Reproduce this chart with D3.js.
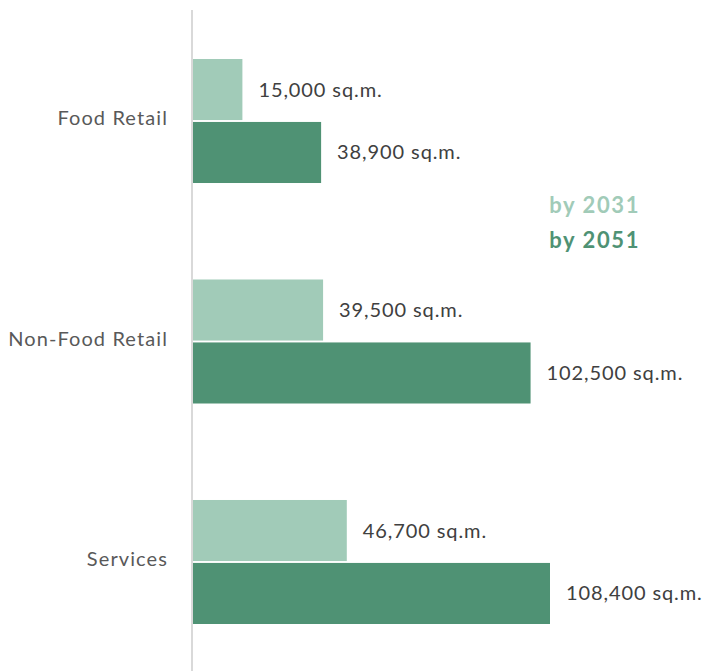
<!DOCTYPE html>
<html>
<head>
<meta charset="utf-8">
<script src="https://cdn.jsdelivr.net/npm/d3@7"></script>
<style>
  html, body { margin: 0; padding: 0; background: #ffffff; }
  svg { display: block; }
  text { font-family: Lato, "Noto Sans", sans-serif; }
</style>
</head>
<body>
<svg id="chart" width="703" height="671"></svg>
<script>
// Floor space demand by category (sq.m.)
const categories = ["Food Retail", "Non-Food Retail", "Services"];
const seriesNames = ["by 2031", "by 2051"];
const values2031 = [15000, 39500, 46700];
const values2051 = [38900, 102500, 108400];
const colors = ["#a1cbb8", "#4f9274"];

const width = 703, height = 671;
const axisX = 193;

const svg = d3.select("#chart");

const x = d3.scaleLinear()
  .domain([0, 108400])
  .range([axisX, 550]);

const y = d3.scaleBand()
  .domain(categories)
  .range([6, 677])
  .paddingInner(0.4376)
  .paddingOuter(0.2404);

const sub = d3.scaleBand()
  .domain(seriesNames)
  .range([0, y.bandwidth()])
  .paddingInner(0.03);

const rows = categories.map((c, i) => ({
  category: c,
  items: [
    { series: seriesNames[0], value: values2031[i] },
    { series: seriesNames[1], value: values2051[i] }
  ]
}));

const groups = svg.selectAll("g.group")
  .data(rows)
  .join("g")
  .attr("class", "group")
  .attr("transform", d => `translate(0,${y(d.category)})`);

groups.selectAll("rect")
  .data(d => d.items)
  .join("rect")
  .attr("x", x(0))
  .attr("y", d => sub(d.series))
  .attr("width", d => x(d.value) - x(0))
  .attr("height", sub.bandwidth())
  .attr("fill", (d, i) => colors[i]);

const fmt = d3.format(",");
groups.selectAll("text.value")
  .data(d => d.items)
  .join("text")
  .attr("class", "value")
  .attr("x", d => x(d.value) + 16)
  .attr("y", d => sub(d.series) + sub.bandwidth() / 2)
  .attr("dy", "0.35em")
  .attr("fill", "#404040")
  .attr("font-size", 20)
  .attr("letter-spacing", 0.9)
  .text(d => `${fmt(d.value)} sq.m.`);

// Category axis
const axis = d3.axisLeft(y).tickSize(0).tickPadding(25);
const gAxis = svg.append("g")
  .attr("transform", `translate(${axisX},0)`)
  .call(axis);
gAxis.select(".domain").remove();
gAxis.selectAll("text")
  .attr("font-family", "Lato, 'Noto Sans', sans-serif")
  .attr("font-size", 20)
  .attr("letter-spacing", 1.1)
  .attr("fill", "#595959")
  .attr("dy", "0.2em");

svg.append("line")
  .attr("x1", axisX - 1).attr("x2", axisX - 1)
  .attr("y1", 10).attr("y2", height)
  .attr("stroke", "#d9d9d9")
  .attr("stroke-width", 2);

// Legend
const legend = svg.append("g");
legend.selectAll("text")
  .data(seriesNames)
  .join("text")
  .attr("x", 640)
  .attr("y", (d, i) => 213 + i * 35)
  .attr("text-anchor", "end")
  .attr("font-size", 22)
  .attr("font-weight", "bold")
  .attr("letter-spacing", 1.6)
  .attr("fill", (d, i) => colors[i])
  .text(d => d);
</script>
</body>
</html>
